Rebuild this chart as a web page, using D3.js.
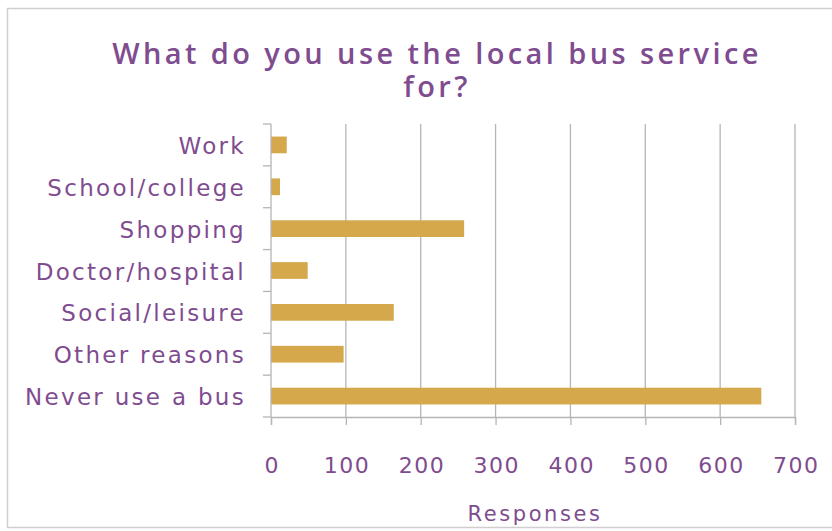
<!DOCTYPE html>
<html lang="en">
<head>
  <meta charset="UTF-8">
  <title>Local bus service</title>
  <script src="https://d3js.org/d3.v7.min.js"></script>
  <style>
    body { margin: 0; background: #fff; font-family: "DejaVu Sans", sans-serif; }
    svg { display: block; }
  </style>
</head>
<body>
  <svg id="chart"></svg>
  <script>
    // data
    const categories = ["Work", "School/college", "Shopping", "Doctor/hospital",
      "Social/leisure", "Other reasons", "Never use a bus"];
    const responses = [21, 12, 258, 49, 164, 97, 655];
    const xTicks = [0, 100, 200, 300, 400, 500, 600, 700];
    const titleLines = ["What do you use the local bus service", "for?"];

    const width = 832, height = 531;
    const margin = { top: 124, right: 37, bottom: 114, left: 271 };
    const purple = "#7f4c90";
    const grey = "#b5b5b5";
    const font = "'DejaVu Sans', sans-serif";

    const svg = d3.select("#chart").attr("width", width).attr("height", height);

    // frame
    svg.append("rect")
      .attr("x", 7.5).attr("y", 8.5)
      .attr("width", 840).attr("height", 519)
      .attr("fill", "none").attr("stroke", "#cfcfcf").attr("stroke-width", 1.5);

    const x = d3.scaleLinear().domain([0, 700]).range([margin.left, width - margin.right]);
    const y = d3.scaleBand().domain(categories)
      .range([margin.top, height - margin.bottom]).paddingInner(0.6).paddingOuter(0.3);

    // gridlines
    svg.append("g")
      .selectAll("line")
      .data(xTicks.slice(1))
      .join("line")
      .attr("x1", d => x(d)).attr("x2", d => x(d))
      .attr("y1", margin.top).attr("y2", height - margin.bottom)
      .attr("stroke", grey).attr("stroke-width", 1.3);

    // bars
    svg.append("g")
      .selectAll("rect")
      .data(categories)
      .join("rect")
      .attr("x", x(0))
      .attr("y", d => y(d))
      .attr("width", (d, i) => x(responses[i]) - x(0))
      .attr("height", y.bandwidth())
      .attr("fill", "#d4a84b");

    // x axis
    const xAxis = svg.append("g")
      .attr("transform", `translate(0,${height - margin.bottom})`)
      .call(d3.axisBottom(x).tickValues(xTicks).tickSize(8).tickPadding(32));
    xAxis.select(".domain").attr("stroke", grey).attr("stroke-width", 1.3);
    xAxis.selectAll(".tick line").attr("stroke", grey).attr("stroke-width", 1.3);
    xAxis.selectAll("text")
      .attr("fill", purple).attr("font-size", 22)
      .attr("letter-spacing", 1.5).attr("dx", 0.75)
      .attr("font-family", font);

    // y axis: ticks on band edges
    const yAxis = svg.append("g")
      .attr("transform", `translate(${margin.left},0)`);
    yAxis.append("line")
      .attr("y1", margin.top).attr("y2", height - margin.bottom)
      .attr("stroke", grey).attr("stroke-width", 1.3);
    const edges = d3.range(categories.length + 1)
      .map(i => margin.top + i * (height - margin.top - margin.bottom) / categories.length);
    yAxis.selectAll(".edge")
      .data(edges)
      .join("line")
      .attr("class", "edge")
      .attr("x1", -8).attr("x2", 0)
      .attr("y1", d => d).attr("y2", d => d)
      .attr("stroke", grey).attr("stroke-width", 1.3);
    yAxis.selectAll("text")
      .data(categories)
      .join("text")
      .attr("x", -25)
      .attr("y", d => y(d) + y.bandwidth() / 2 + 1)
      .attr("dy", "0.35em")
      .attr("text-anchor", "end")
      .attr("fill", purple).attr("font-size", 23)
      .attr("letter-spacing", 2.3)
      .text(d => d);

    // title
    svg.selectAll(".title")
      .data(titleLines)
      .join("text")
      .attr("class", "title")
      .attr("x", 437).attr("y", (d, i) => 64 + i * 33)
      .attr("text-anchor", "middle")
      .attr("fill", purple).attr("font-size", 29).attr("font-weight", 600)
      .attr("font-family", "'Open Sans', sans-serif")
      .attr("letter-spacing", 3.4)
      .text(d => d);

    // axis title
    svg.append("text")
      .attr("x", 535).attr("y", 521)
      .attr("text-anchor", "middle")
      .attr("fill", purple).attr("font-size", 21)
      .attr("letter-spacing", 2.6)
      .text("Responses");
  </script>
</body>
</html>
